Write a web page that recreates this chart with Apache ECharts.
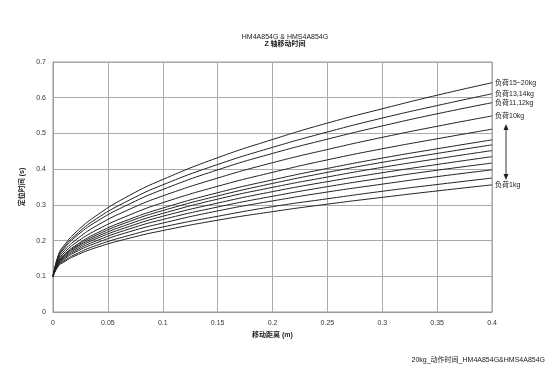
<!DOCTYPE html>
<html><head><meta charset="utf-8">
<script src="https://cdn.jsdelivr.net/npm/echarts@6/dist/echarts.min.js"></script>
<style>html,body{margin:0;padding:0;background:#fff}#c{width:550px;height:380px}</style>
</head><body><div id="c"></div>
<script>
const distances = [0, 0.005, 0.01, 0.02, 0.04, 0.07, 0.1, 0.15, 0.2, 0.25, 0.3, 0.35, 0.4];
const seriesNames = ['负荷15~20kg','负荷13,14kg','负荷11,12kg','负荷10kg','负荷9kg','负荷8kg','负荷7kg','负荷6kg','负荷5kg','负荷4kg','负荷3kg','负荷2kg','负荷1kg'];
const labeled = ['负荷15~20kg','负荷13,14kg','负荷11,12kg','负荷10kg','负荷1kg'];
const load15_20 = [0.1,0.161,0.186,0.221,0.271,0.327,0.371,0.432,0.483,0.529,0.569,0.607,0.642];
const load13_14 = [0.1,0.157,0.181,0.214,0.262,0.314,0.356,0.413,0.461,0.504,0.543,0.578,0.611];
const load11_12 = [0.1,0.154,0.177,0.209,0.254,0.303,0.343,0.398,0.444,0.484,0.521,0.555,0.586];
const load10 = [0.1,0.150,0.171,0.200,0.242,0.288,0.325,0.375,0.418,0.455,0.489,0.520,0.549];
const load9  = [0.1,0.146,0.165,0.192,0.230,0.272,0.306,0.352,0.391,0.426,0.457,0.485,0.512];
const load8  = [0.1,0.143,0.160,0.185,0.221,0.260,0.291,0.334,0.370,0.402,0.431,0.457,0.482];
const load7  = [0.1,0.141,0.158,0.182,0.216,0.254,0.284,0.325,0.360,0.391,0.419,0.444,0.468];
const load6  = [0.1,0.139,0.156,0.179,0.211,0.247,0.276,0.316,0.349,0.378,0.405,0.429,0.452];
const load5  = [0.1,0.137,0.153,0.175,0.206,0.240,0.268,0.305,0.337,0.365,0.390,0.413,0.435];
const load4  = [0.1,0.135,0.150,0.171,0.200,0.233,0.259,0.294,0.324,0.351,0.375,0.397,0.417];
const load3  = [0.1,0.133,0.147,0.167,0.194,0.225,0.249,0.283,0.311,0.336,0.358,0.379,0.398];
const load2  = [0.1,0.131,0.143,0.161,0.187,0.215,0.238,0.268,0.295,0.317,0.338,0.357,0.375];
const load1  = [0.1,0.129,0.140,0.157,0.181,0.207,0.228,0.257,0.281,0.302,0.321,0.339,0.356];
const allLoads = [load15_20,load13_14,load11_12,load10,load9,load8,load7,load6,load5,load4,load3,load2,load1];
const xTicks = [0,0.05,0.1,0.15,0.2,0.25,0.3,0.35,0.4];

const FONT = '"Liberation Sans", "Noto Sans CJK SC", sans-serif';
const chart = echarts.init(document.getElementById('c'));
chart.setOption({
  backgroundColor: '#fff',
  animation: false,
  title: {
    text: 'HM4A854G & HMS4A854G',
    subtext: 'Z 轴移动时间',
    left: 280, top: 29, textAlign: 'center', itemGap: 0,
    textStyle: {fontSize: 7, fontWeight: 'normal', color: '#222', fontFamily: FONT},
    subtextStyle: {fontSize: 7, fontWeight: 'bold', color: '#222', fontFamily: FONT}
  },
  grid: {left: 53, right: 58, top: 62, bottom: 68, show: true, borderColor: '#999', borderWidth: 1},
  xAxis: {
    type: 'value', min: 0, max: 0.4, interval: 0.05,
    name: '移动距离 (m)', nameLocation: 'middle', nameGap: 20,
    nameTextStyle: {fontSize: 7, fontWeight: 'bold', color: '#222', fontFamily: FONT},
    axisLine: {lineStyle: {color: '#999'}},
    axisTick: {show: false},
    axisLabel: {fontSize: 7, color: '#333', margin: 8, fontFamily: FONT,
      formatter: v => { const t = xTicks.find(x => Math.abs(x - v) < 1e-9); return t === undefined ? '' : String(t); }},
    splitLine: {show: true, lineStyle: {color: '#aaa', width: 1}}
  },
  yAxis: {
    type: 'value', min: 0, max: 0.7, interval: 0.1,
    name: '定位时间 (s)', nameLocation: 'middle', nameGap: 22, nameRotate: 90,
    nameTextStyle: {fontSize: 7, fontWeight: 'bold', color: '#222', fontFamily: FONT},
    axisLine: {show: true, lineStyle: {color: '#999'}},
    axisTick: {show: false},
    axisLabel: {fontSize: 7, color: '#333', margin: 7, fontFamily: FONT,
      formatter: v => String(Math.round(v * 10) / 10)},
    splitLine: {show: true, lineStyle: {color: '#aaa', width: 1}}
  },
  series: allLoads.map((vals, i) => ({
    name: seriesNames[i],
    type: 'line',
    smooth: true,
    showSymbol: false,
    lineStyle: {color: '#222', width: 1},
    data: vals.map((v, j) => [distances[j], v]),
    endLabel: {
      show: labeled.includes(seriesNames[i]),
      formatter: seriesNames[i],
      fontSize: 7, color: '#222', fontFamily: FONT, distance: 3
    }
  })),
  graphic: [
    {type: 'line', shape: {x1: 506, y1: 128, x2: 506, y2: 176}, style: {stroke: '#333', lineWidth: 1}},
    {type: 'polygon', shape: {points: [[506,124],[503.5,130],[508.5,130]]}, style: {fill: '#222'}},
    {type: 'polygon', shape: {points: [[506,180],[503.5,174],[508.5,174]]}, style: {fill: '#222'}},
    {type: 'text', right: 5, top: 357, style: {text: '20kg_动作时间_HM4A854G&HMS4A854G', fontSize: 7, fill: '#222', fontFamily: FONT}}
  ]
});
</script></body></html>
